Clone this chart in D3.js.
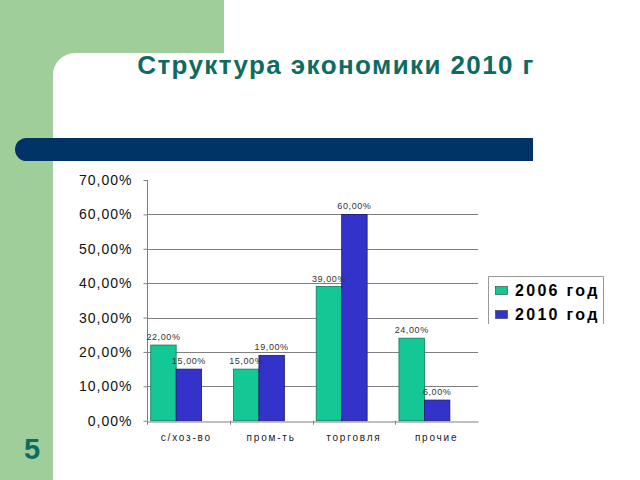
<!DOCTYPE html>
<html>
<head>
<meta charset="utf-8">
<script src="https://cdn.jsdelivr.net/npm/d3@7"></script>
<style>
  body { margin: 0; background: #fff; }
  svg { display: block; }
</style>
</head>
<body>
<script>
var categories = ["с/хоз-во", "пром-ть", "торговля", "прочие"];
var seriesNames = ["2006 год", "2010 год"];
var values2006 = [0.22, 0.15, 0.39, 0.24];
var values2010 = [0.15, 0.19, 0.60, 0.06];
var yTicks = [0, 0.1, 0.2, 0.3, 0.4, 0.5, 0.6, 0.7];
var colors = ["#14c896", "#3333cc"];

var width = 640, height = 480;

var svg = d3.select("body").append("svg")
    .attr("width", width)
    .attr("height", height);

// slide background
svg.append("rect").attr("x", 0).attr("y", 0).attr("width", 224).attr("height", height).attr("fill", "#a0ce9b");
svg.append("rect").attr("x", 53).attr("y", 53).attr("width", width - 53).attr("height", height - 53)
    .attr("rx", 22).attr("fill", "#fff");
svg.append("rect").attr("x", 75).attr("y", 53).attr("width", width - 75).attr("height", height - 53).attr("fill", "#fff");
svg.append("rect").attr("x", 53).attr("y", 75).attr("width", 30).attr("height", height - 75).attr("fill", "#fff");

// dark band
svg.append("rect").attr("x", 15).attr("y", 138).attr("width", 40).attr("height", 23)
    .attr("rx", 11.5).attr("fill", "#003366");
svg.append("rect").attr("x", 30).attr("y", 138).attr("width", 503).attr("height", 23).attr("fill", "#003366");

// title
svg.append("text")
    .attr("x", 336).attr("y", 74)
    .attr("text-anchor", "middle")
    .attr("font-family", "Arial, 'Liberation Sans', sans-serif")
    .attr("font-weight", "bold")
    .attr("font-size", "26px")
    .attr("letter-spacing", "1.4px")
    .attr("fill", "#0e6b60")
    .text("Структура экономики 2010 г");

// slide number
svg.append("text")
    .attr("x", 32).attr("y", 459)
    .attr("text-anchor", "middle")
    .attr("font-family", "Arial, 'Liberation Sans', sans-serif")
    .attr("font-weight", "bold")
    .attr("font-size", "29px")
    .attr("fill", "#0e6b60")
    .text("5");

// chart
var x = d3.scaleBand().domain(categories).range([147, 478]).padding(0);
var x1 = d3.scaleBand().domain(seriesNames)
    .range([x.bandwidth() * 0.045, x.bandwidth() * 0.66]).padding(0);
var y = d3.scaleLinear().domain([0, 0.7]).range([420.7, 180]);

var fmt = function(v) { return d3.format(".2f")(v * 100).replace(".", ",") + "%"; };

// gridlines
svg.append("g")
  .selectAll("line")
  .data(yTicks.filter(function(d) { return d > 0 && d < 0.7; }))
  .enter().append("line")
    .attr("x1", 147).attr("x2", 478)
    .attr("y1", function(d) { return Math.round(y(d)) + 0.5; })
    .attr("y2", function(d) { return Math.round(y(d)) + 0.5; })
    .attr("stroke", "#808080").attr("stroke-width", 1);

// y axis
var yAxis = svg.append("g")
    .attr("transform", "translate(147.5,0)")
    .call(d3.axisLeft(y).tickValues(yTicks).tickSize(4).tickPadding(11).tickFormat(fmt));
yAxis.select(".domain").attr("stroke", "#808080").attr("d", "M0," + y(0.7) + "V" + y(0));
yAxis.selectAll(".tick line").attr("stroke", "#808080");
yAxis.selectAll(".tick text")
    .attr("font-family", "Arial, 'Liberation Sans', sans-serif")
    .attr("font-size", "14px")
    .attr("letter-spacing", "1px")
    .attr("fill", "#111");

// x axis
var xAxis = svg.append("g")
    .attr("transform", "translate(0," + (Math.round(y(0)) + 0.5) + ")")
    .call(d3.axisBottom(x).tickSize(0).tickPadding(12));
xAxis.select(".domain").attr("stroke", "#808080");
xAxis.selectAll(".tick text")
    .attr("font-family", "Arial, 'Liberation Sans', sans-serif")
    .attr("font-size", "10px")
    .attr("letter-spacing", "1.8px")
    .attr("fill", "#222");
xAxis.selectAll(".tick text").attr("dx", function(d, i) { return i === 0 ? -2 : 0; });
svg.append("g").selectAll("line")
  .data(categories)
  .enter().append("line")
    .attr("x1", function(d) { return Math.round(x(d)) + 0.5; })
    .attr("x2", function(d) { return Math.round(x(d)) + 0.5; })
    .attr("y1", y(0)).attr("y2", y(0) + 4)
    .attr("stroke", "#808080");

// bars
var rows = categories.map(function(c, i) {
  return { cat: c, vals: [values2006[i], values2010[i]] };
});

var group = svg.append("g").selectAll("g")
  .data(rows)
  .enter().append("g")
    .attr("transform", function(d) { return "translate(" + x(d.cat) + ",0)"; });

group.selectAll("rect")
  .data(function(d) { return d.vals.map(function(v, j) { return { s: seriesNames[j], v: v, j: j }; }); })
  .enter().append("rect")
    .attr("x", function(d) { return x1(d.s); })
    .attr("y", function(d) { return y(d.v); })
    .attr("width", x1.bandwidth())
    .attr("height", function(d) { return y(0) - y(d.v); })
    .attr("fill", function(d) { return colors[d.j]; })
    .attr("stroke", function(d) { return d.j === 0 ? "#0c7a5c" : "#1a1a66"; })
    .attr("stroke-width", 0.8);

group.selectAll("text")
  .data(function(d) { return d.vals.map(function(v, j) { return { s: seriesNames[j], v: v, j: j }; }); })
  .enter().append("text")
    .attr("x", function(d) { return x1(d.s) + x1.bandwidth() / 2; })
    .attr("y", function(d) { return y(d.v) - 5; })
    .attr("text-anchor", "middle")
    .attr("font-family", "Arial, 'Liberation Sans', sans-serif")
    .attr("font-size", "9px")
    .attr("letter-spacing", "0.6px")
    .attr("fill", "#333")
    .text(function(d) { return fmt(d.v); });

// legend
var legend = svg.append("g");
legend.append("rect").attr("x", 488).attr("y", 276).attr("width", 116).attr("height", 48)
    .attr("fill", "#fff");
legend.append("path")
    .attr("d", "M488.5,324V276.5H603.5V324")
    .attr("fill", "none").attr("stroke", "#999");
var li = legend.selectAll("g")
  .data(seriesNames)
  .enter().append("g")
    .attr("transform", function(d, i) { return "translate(0," + (i * 24) + ")"; });
li.append("rect")
    .attr("x", 495.5).attr("y", 286.5).attr("width", 12).attr("height", 8)
    .attr("fill", function(d, i) { return colors[i]; })
    .attr("stroke", "#333").attr("stroke-width", 0.6);
li.append("text")
    .attr("x", 515).attr("y", 296)
    .attr("font-family", "Arial, 'Liberation Sans', sans-serif")
    .attr("font-weight", "bold")
    .attr("font-size", "16px")
    .attr("letter-spacing", "2.3px")
    .attr("fill", "#000")
    .text(function(d) { return d; });
</script>
</body>
</html>
